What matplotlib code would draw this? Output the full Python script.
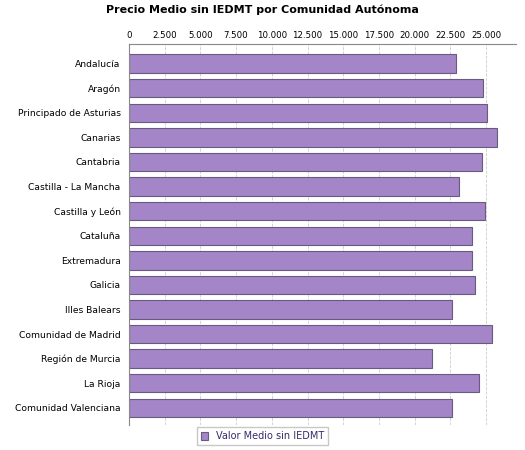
import matplotlib.pyplot as plt
from matplotlib.ticker import FuncFormatter

regiones = ["Andalucía", "Aragón", "Principado de Asturias", "Canarias", "Cantabria",
            "Castilla - La Mancha", "Castilla y León", "Cataluña", "Extremadura", "Galicia",
            "Illes Balears", "Comunidad de Madrid", "Región de Murcia", "La Rioja",
            "Comunidad Valenciana"]
precios = [22900, 24800, 25100, 25800, 24700, 23100, 24900, 24000, 24000, 24200,
           22600, 25400, 21200, 24500, 22600]

fig = plt.figure(figsize=(5.25, 4.5), dpi=100)
ax = fig.add_axes([129/525, 25/450, 387/525, (425-44)/450])

y = list(range(len(regiones)))
ax.barh(y, precios, height=0.75, color="#a385c8", edgecolor="#6a5a80", linewidth=0.8,
        label="Valor Medio sin IEDMT")
ax.set_ylim(len(regiones) - 0.3, -0.8)
ax.set_yticks(y)
ax.set_yticklabels(regiones, fontsize=6.6)
ax.set_xlim(0, 27100)
ax.set_xticks(range(0, 25001, 2500))
ax.xaxis.set_major_formatter(FuncFormatter(lambda v, p: f"{int(v):,}".replace(",", ".")))
ax.xaxis.tick_top()
ax.tick_params(axis="x", labelsize=6.2, length=0, pad=3)
ax.tick_params(axis="y", length=0, pad=6)
ax.grid(axis="x", color="#cccccc", linestyle="--", linewidth=0.6)
ax.set_axisbelow(True)
for s in ["right", "bottom"]:
    ax.spines[s].set_visible(False)
ax.spines["left"].set_color("#888888")
ax.spines["top"].set_color("#888888")

fig.text(0.50, 0.99, "Precio Medio sin IEDMT por Comunidad Autónoma", ha="center", va="top",
         fontsize=8, fontweight="bold")
fig.legend(loc="lower center", bbox_to_anchor=(0.5, 0.0), fontsize=7, frameon=True,
           fancybox=False, edgecolor="#bbbbbb", handlelength=0.8, handleheight=0.8,
           labelcolor="#3a2a6a")

fig.savefig("out.png", dpi=100)
